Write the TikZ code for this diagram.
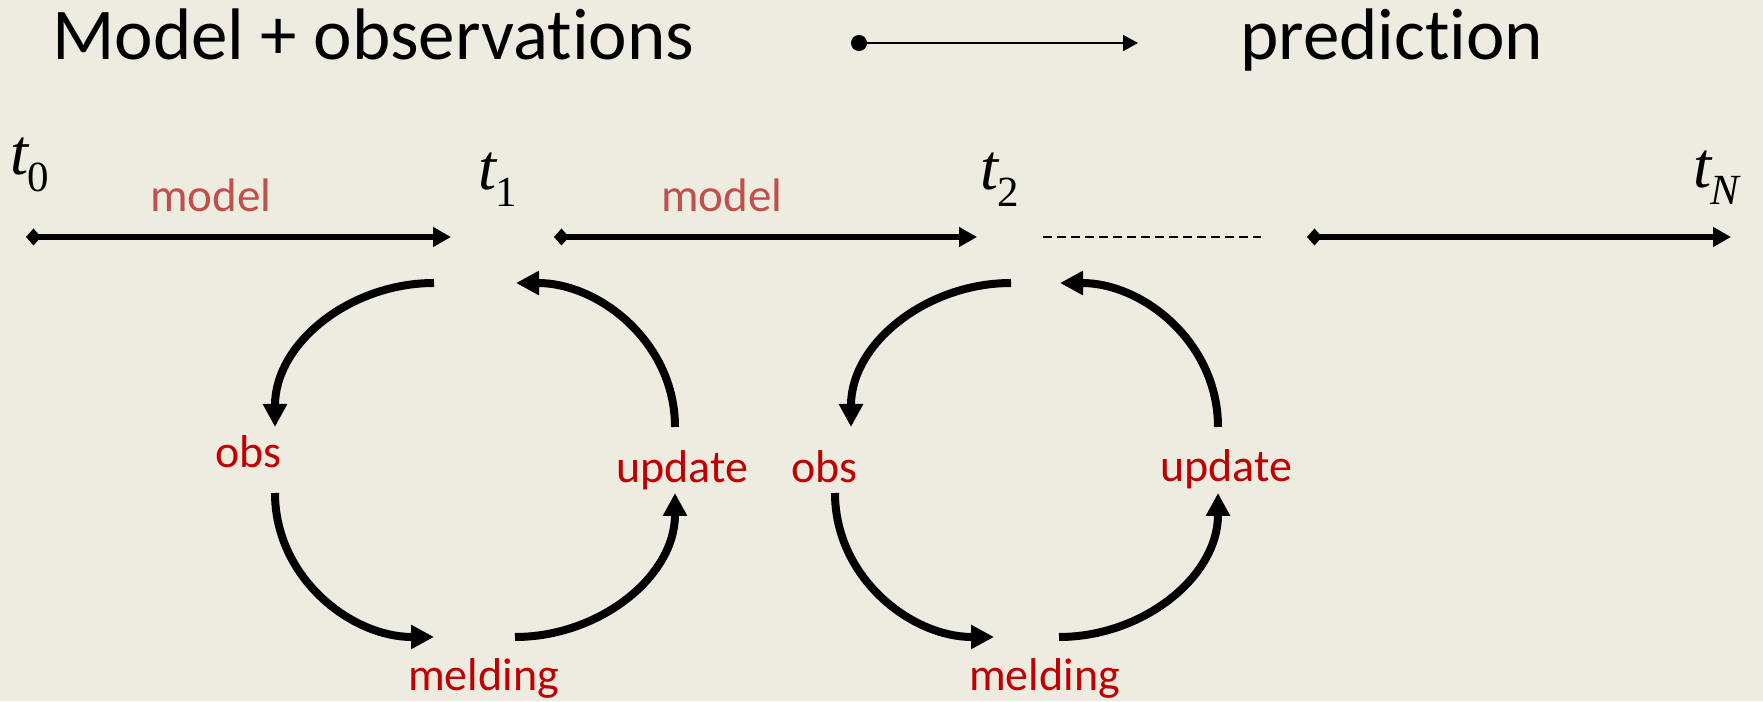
\documentclass[tikz,border=0pt]{standalone}
\usepackage{fontspec}
\setmainfont{Carlito}[Ligatures={NoCommon,NoRare,NoContextual}]
\newfontfamily\tfont{Liberation Serif}
\usetikzlibrary{arrows.meta}
\definecolor{bgpaper}{HTML}{EEECE1}
\definecolor{modelred}{HTML}{C0504D}
\definecolor{stepred}{HTML}{C00000}
\newcommand{\tlab}[2]{{\tfont\fontsize{65}{67}\selectfont\itshape t}\kern-1pt\raisebox{-17pt}{\tfont\fontsize{43}{45}\selectfont #1#2}}
\begin{document}
\begin{tikzpicture}[x=1pt,y=1pt,
  lbl/.style={inner sep=0pt, anchor=base west},
  bigtext/.style={lbl, font=\fontsize{73}{80}\selectfont},
  modellbl/.style={lbl, text=modelred, font=\fontsize{47}{50}\selectfont},
  steplbl/.style={lbl, text=stepred, font=\fontsize{46}{50}\selectfont},
  timelbl/.style={lbl},
  tlarrow/.style={line width=5.5pt, arrows={Diamond[length=15pt,width=17pt]-Triangle[length=18pt,width=19pt]}},
  cycarrow/.style={line width=8pt, arrows={-Triangle[length=23pt,width=23pt]}},
]
\fill[bgpaper] (0,0) rectangle (1763,701);
\useasboundingbox (0,0) rectangle (1763,701);

% title row
\node[bigtext] (mo) at (52,641) {Model + observat\kern0pt ions};
\node[bigtext] (pred) at (1240,641) {predict\kern0pt ion};
\coordinate (pa) at (851,658);
\coordinate (pb) at (1138,658);
\draw[line width=2pt, arrows={Circle[length=16pt]-Triangle[length=15pt,width=16pt]}] (pa) -- (pb);

% time labels
\node[timelbl] (t0) at (10,526) {\tlab{}{0}};
\node[timelbl] (t1) at (478,511) {\tlab{}{1}};
\node[timelbl] (t2) at (980,511) {\tlab{}{2}};
\node[timelbl] (tN) at (1693,513) {\tlab{\itshape}{N}};

% model labels
\node[modellbl] (m1) at (150,489) {model};
\node[modellbl] (m2) at (661,489) {model};

% timeline
\coordinate (a1s) at (26,464);  \coordinate (a1e) at (451,464);
\coordinate (a2s) at (554,464); \coordinate (a2e) at (977,464);
\coordinate (a3s) at (1307,464); \coordinate (a3e) at (1731,464);
\coordinate (ds) at (1043,464); \coordinate (de) at (1261,464);
\draw[tlarrow] (a1s) -- (a1e);
\draw[tlarrow] (a2s) -- (a2e);
\draw[tlarrow] (a3s) -- (a3e);
\draw[line width=1.5pt, dash pattern=on 9pt off 5pt] (ds) -- (de);

% cycle 1
\node[steplbl] (obs1) at (215,233) {obs};
\node[steplbl] (upd1) at (616,218) {update};
\node[steplbl] (mel1) at (408,11) {melding};
\coordinate (c1a) at (434,418); \coordinate (c1b) at (275,274);
\coordinate (c1c) at (675,274); \coordinate (c1d) at (516,418);
\coordinate (c1e) at (275,208); \coordinate (c1f) at (434,64);
\coordinate (c1g) at (515,64);  \coordinate (c1h) at (675,208);
\draw[cycarrow] (c1a) to[out=180,in=90] (c1b);
\draw[cycarrow] (c1c) to[out=90,in=0] (c1d);
\draw[cycarrow] (c1e) to[out=270,in=180] (c1f);
\draw[cycarrow] (c1g) to[out=0,in=270] (c1h);

% cycle 2
\node[steplbl] (obs2) at (791,218) {obs};
\node[steplbl] (upd2) at (1160,219) {update};
\node[steplbl] (mel2) at (969,11) {melding};
\coordinate (c2a) at (1011,418); \coordinate (c2b) at (851,274);
\coordinate (c2c) at (1218,274); \coordinate (c2d) at (1060,418);
\coordinate (c2e) at (835,208);  \coordinate (c2f) at (994,64);
\coordinate (c2g) at (1059,64);  \coordinate (c2h) at (1218,208);
\draw[cycarrow] (c2a) to[out=180,in=90] (c2b);
\draw[cycarrow] (c2c) to[out=90,in=0] (c2d);
\draw[cycarrow] (c2e) to[out=270,in=180] (c2f);
\draw[cycarrow] (c2g) to[out=0,in=270] (c2h);
\end{tikzpicture}
\end{document}
